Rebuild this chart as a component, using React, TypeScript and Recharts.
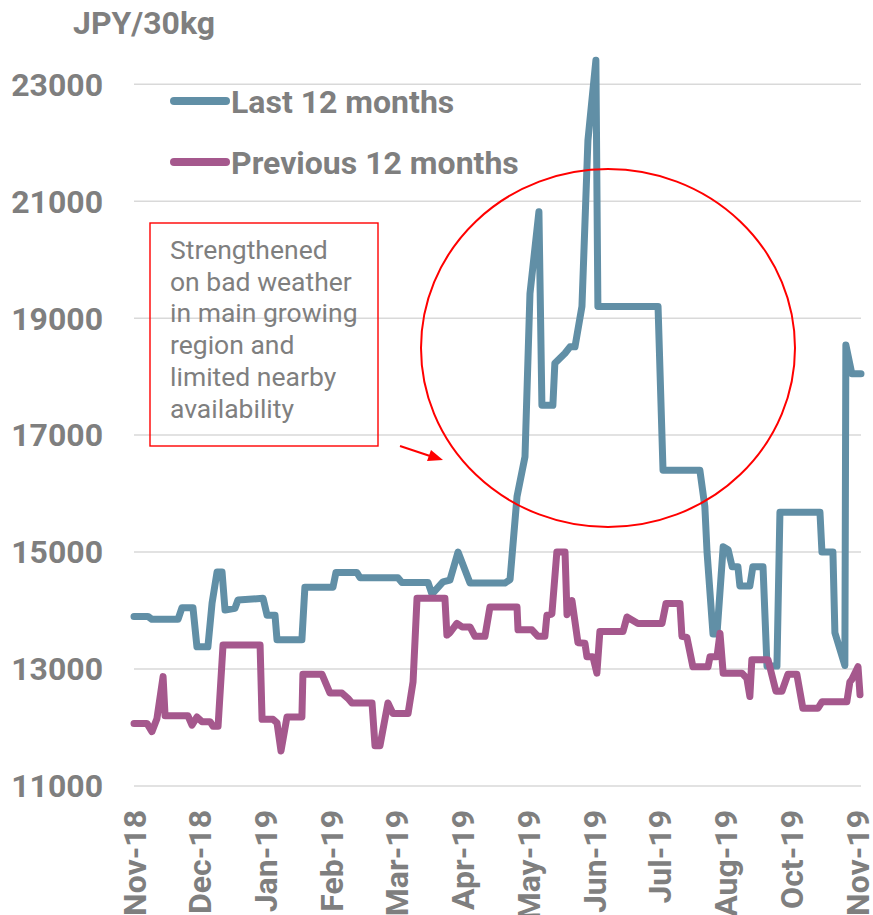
import React from 'react';
import { LineChart, Line, XAxis, YAxis, CartesianGrid } from 'recharts';

// x positions are days from the first date on the axis
const tickDays = [0, 33, 66, 99, 132, 165, 198, 231, 264, 297, 330, 363];
const tickLabels = ['Nov-18', 'Dec-18', 'Jan-19', 'Feb-19', 'Mar-19', 'Apr-19', 'May-19', 'Jun-19', 'Jul-19', 'Aug-19', 'Oct-19', 'Nov-19'];
const yTicks = [11000, 13000, 15000, 17000, 19000, 21000, 23000];

const lastDays = [0, 7, 9, 22.1, 24.1, 29.6, 31.6, 37.1, 39.2, 41.7, 44.2, 45.7, 50.7, 52.2, 64.8, 66.8, 70.8, 71.8, 84.3, 85.8, 99.9, 101.4, 111.9, 113.5, 132.5, 134.5, 147.6, 149.6, 155.1, 158.6, 162.7, 168.7, 186.2, 188.8, 192.3, 196.3, 198.8, 203.3, 204.8, 210.3, 211.3, 216.4, 218.9, 221.4, 224.9, 227.9, 231.9, 232.9, 263.1, 265.6, 284.1, 286.6, 287.7, 290.7, 292.7, 295.8, 298.3, 300.3, 303.2, 304.2, 309.2, 310.7, 315.8, 317.8, 322.8, 324.3, 344.4, 345.4, 350.9, 351.9, 356.9, 357.4, 360.4, 365];
const lastValues = [13900, 13900, 13850, 13850, 14050, 14050, 13380, 13380, 14130, 14660, 14660, 14010, 14040, 14180, 14210, 13920, 13920, 13500, 13500, 14400, 14400, 14650, 14650, 14560, 14560, 14480, 14480, 14280, 14490, 14520, 15000, 14470, 14470, 14530, 15950, 16630, 19420, 20820, 17510, 17510, 18230, 18400, 18510, 18510, 19200, 22040, 23410, 19200, 19200, 16400, 16400, 15780, 15000, 13600, 13600, 15090, 15040, 14750, 14750, 14420, 14420, 14750, 14750, 13050, 13050, 15680, 15680, 15000, 15000, 13620, 13060, 18540, 18050, 18050];

const prevDays = [0, 6.5, 9.0, 11.5, 14.6, 15.6, 27.1, 29.1, 31.6, 34.1, 38.2, 39.7, 42.2, 44.7, 63.3, 64.3, 69.8, 71.8, 73.8, 76.8, 84.3, 84.8, 94.4, 98.4, 104.4, 107.4, 109.4, 119.5, 121.0, 123.5, 127.5, 130.0, 137.6, 140.1, 142.1, 156.1, 157.1, 158.6, 162.1, 164.7, 168.7, 171.2, 176.2, 178.7, 192.3, 192.8, 199.8, 202.8, 206.3, 207.3, 209.8, 212.3, 216.4, 217.4, 219.9, 222.9, 226.4, 227.4, 230.4, 232.4, 233.9, 245.5, 247.5, 253.0, 265.1, 267.1, 274.1, 275.1, 277.6, 280.6, 288.2, 289.2, 292.7, 294.2, 295.8, 305.2, 307.7, 309.2, 310.2, 318.3, 322.3, 325.3, 328.3, 332.8, 335.8, 343.4, 345.4, 357.9, 359.4, 360.4, 363.5, 364.5];
const prevValues = [12070, 12070, 11930, 12150, 12870, 12200, 12200, 12040, 12180, 12100, 12100, 12020, 12020, 13410, 13410, 12140, 12140, 12080, 11600, 12180, 12180, 12910, 12910, 12590, 12590, 12500, 12420, 12420, 11690, 11690, 12420, 12240, 12240, 12780, 14210, 14210, 13580, 13620, 13780, 13720, 13720, 13560, 13560, 14060, 14060, 13670, 13670, 13560, 13560, 13920, 13940, 15000, 15000, 13930, 14170, 13450, 13440, 13210, 13210, 12930, 13640, 13640, 13890, 13780, 13780, 14120, 14120, 13560, 13540, 13040, 13040, 13210, 13210, 13610, 12930, 12930, 12840, 12530, 13160, 13160, 12620, 12620, 12910, 12910, 12330, 12330, 12440, 12440, 12780, 12820, 13040, 12560];

const seriesNames = ['Last 12 months', 'Previous 12 months'];
const noteLines = ['Strengthened', 'on bad weather', 'in main growing', 'region and', 'limited nearby', 'availability'];

const BLUE = '#618fa6';
const PURPLE = '#a5588d';
const GRAY = '#7f7f7f';
const FONT = 'Roboto, "Noto Sans", sans-serif';

const lastData = lastDays.map((d, i) => ({ d, v: lastValues[i] }));
const prevData = prevDays.map((d, i) => ({ d, v: prevValues[i] }));

const XTick = (props: any) => {
  const { x, y, payload } = props;
  const idx = tickDays.indexOf(payload.value);
  return (
    <g transform={`translate(${x},${y + 24})`}>
      <text transform="rotate(-90)" textAnchor="end" dy="0.36em" fontSize={32} fontWeight="bold" fill={GRAY} fontFamily={FONT}>
        {tickLabels[idx]}
      </text>
    </g>
  );
};

export default function App() {
  return (
    <div style={{ position: 'absolute', left: 0, top: 0, width: 873, height: 915, background: '#fff', fontFamily: FONT }}>
      <LineChart width={873} height={915} margin={{ top: 55, right: 12, bottom: 0, left: 0 }}>
        <CartesianGrid vertical={false} horizontalValues={yTicks} stroke="#d9d9d9" strokeWidth={1.5} />
        <XAxis
          type="number"
          dataKey="d"
          domain={[0, 365]}
          ticks={tickDays}
          interval={0}
          tick={<XTick />}
          axisLine={false}
          tickLine={false}
          tickSize={0}
          tickMargin={0}
          height={129}
        />
        <YAxis
          type="number"
          domain={[11000, 23500]}
          ticks={yTicks}
          interval={0}
          width={134}
          axisLine={false}
          tickLine={false}
          tickSize={0}
          tickMargin={31}
          tick={{ fontSize: 32, fontWeight: 'bold', fill: GRAY, fontFamily: FONT }}
        />
        <Line data={lastData} dataKey="v" name={seriesNames[0]} type="linear" stroke={BLUE} strokeWidth={7} dot={false} activeDot={false} strokeLinejoin="round" strokeLinecap="round" isAnimationActive={false} />
        <Line data={prevData} dataKey="v" name={seriesNames[1]} type="linear" stroke={PURPLE} strokeWidth={7} dot={false} activeDot={false} strokeLinejoin="round" strokeLinecap="round" isAnimationActive={false} />
      </LineChart>
      <svg width={873} height={915} style={{ position: 'absolute', left: 0, top: 0, pointerEvents: 'none' }}>
        <text x={73} y={34} fontSize={32} fontWeight="bold" fill={GRAY} fontFamily={FONT}>JPY/30kg</text>
        <line x1={174} y1={101} x2={226} y2={101} stroke={BLUE} strokeWidth={8} strokeLinecap="round" />
        <text x={231} y={101} dy="0.36em" fontSize={32} fontWeight="bold" fill={GRAY} fontFamily={FONT}>{seriesNames[0]}</text>
        <line x1={174} y1={162} x2={226} y2={162} stroke={PURPLE} strokeWidth={8} strokeLinecap="round" />
        <text x={231} y={162} dy="0.36em" fontSize={32} fontWeight="bold" fill={GRAY} fontFamily={FONT}>{seriesNames[1]}</text>
        <rect x={150} y={223} width={228} height={223} fill="none" stroke="#ff0000" strokeWidth={1.4} />
        {noteLines.map((t, i) => (
          <text key={i} x={170} y={259 + i * 31.7} fontSize={26.5} fill={GRAY} fontFamily={FONT}>{t}</text>
        ))}
        <ellipse cx={608} cy={348} rx={187} ry={179} fill="none" stroke="#ff0000" strokeWidth={2} />
        <line x1={400} y1={446} x2={430} y2={456} stroke="#ff0000" strokeWidth={2} />
        <polygon points="443,460 427,461 431,450" fill="#ff0000" />
      </svg>
    </div>
  );
}
